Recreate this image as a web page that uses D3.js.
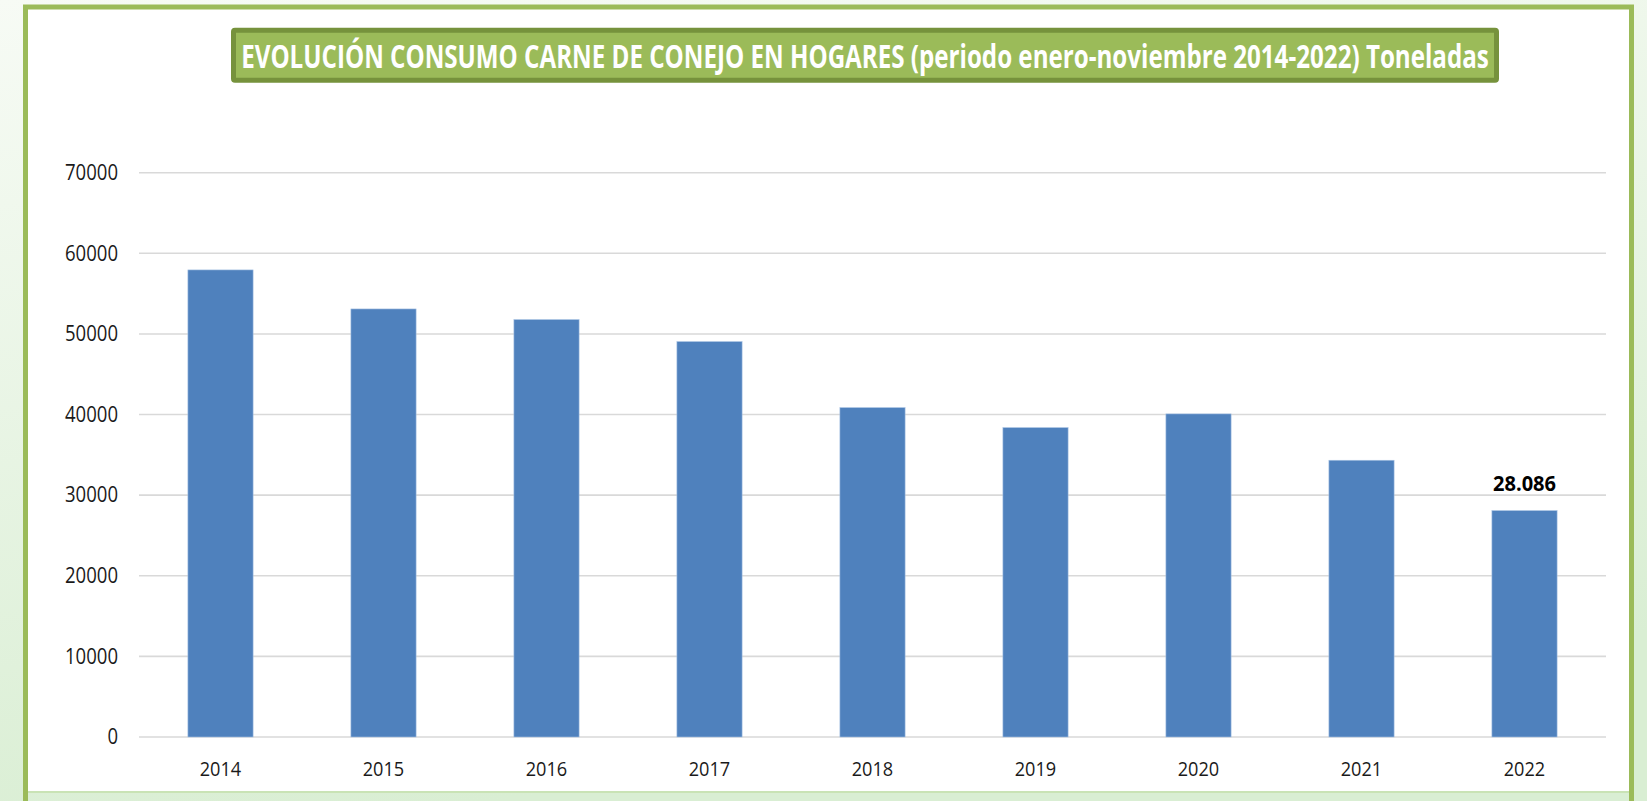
<!DOCTYPE html>
<meta charset="utf-8">
<head>
<style>
  body { margin: 0; overflow: hidden; }
  svg { display: block; }
</style>
</head>
<body>
<script src="https://d3js.org/d3.v7.min.js"></script>
<script>
// data
var years = ["2014", "2015", "2016", "2017", "2018", "2019", "2020", "2021", "2022"];
var tonnes = [57940, 53100, 51780, 49050, 40860, 38380, 40080, 34330, 28086];
var yTicks = [0, 10000, 20000, 30000, 40000, 50000, 60000, 70000];
var lastLabel = "28.086";
var title = "EVOLUCIÓN CONSUMO CARNE DE CONEJO EN HOGARES (periodo enero-noviembre 2014-2022) Toneladas";

var W = 1647, H = 801;
var plot = {left: 139, right: 1606, top: 172.7, bottom: 737};

var svg = d3.select("body").append("svg")
    .attr("width", W)
    .attr("height", H);

// background behind the framed panel
var defs = svg.append("defs");
var grad = defs.append("linearGradient")
    .attr("id", "bg").attr("x1", 0).attr("y1", 0).attr("x2", 0.3).attr("y2", 1);
grad.append("stop").attr("offset", "0%").attr("stop-color", "#f7fbf5");
grad.append("stop").attr("offset", "100%").attr("stop-color", "#d9eed3");
svg.append("rect").attr("width", W).attr("height", H).attr("fill", "url(#bg)");

// white panel + green frame
svg.append("rect")
    .attr("x", 26).attr("y", 7).attr("width", 1605).attr("height", 785)
    .attr("fill", "#ffffff");
svg.append("path")
    .attr("d", "M25.5,801 V7 H1631.5 V801")
    .attr("fill", "none").attr("stroke", "#9bbb59").attr("stroke-width", 5);
svg.append("line")
    .attr("x1", 28).attr("x2", 1629).attr("y1", 792).attr("y2", 792)
    .attr("stroke", "#c9e3b5").attr("stroke-width", 2);

// title box
svg.append("rect")
    .attr("x", 233.5).attr("y", 30.2).attr("width", 1263).attr("height", 50)
    .attr("rx", 1.5)
    .attr("fill", "#9bbb59").attr("stroke", "#76923c").attr("stroke-width", 5);
var titleText = svg.append("text")
    .attr("x", 0).attr("y", 0)
    .attr("text-anchor", "middle")
    .style("font-family", "'Open Sans', sans-serif")
    .style("font-weight", "bold")
    .style("font-size", "32px")
    .attr("fill", "#ffffff")
    .text(title);
// squeeze the title into the box (the original font is a narrow one)
var sx = 1248 / titleText.node().getComputedTextLength();
titleText.attr("transform", "translate(865,67.7) scale(" + sx + ",1)");

var x = d3.scaleBand()
    .domain(years)
    .range([plot.left, plot.right])
    .paddingInner(0.6)
    .paddingOuter(0.3);

var y = d3.scaleLinear()
    .domain([0, 70000])
    .range([plot.bottom, plot.top]);

// gridlines
svg.append("g")
  .selectAll("line")
  .data(yTicks)
  .join("line")
    .attr("x1", plot.left).attr("x2", plot.right)
    .attr("y1", d => y(d)).attr("y2", d => y(d))
    .attr("stroke", "#d9d9d9").attr("stroke-width", 1.6);

// y axis labels
var yAxis = svg.append("g")
    .attr("transform", "translate(" + (plot.left - 21) + ",0)")
    .call(d3.axisLeft(y).tickValues(yTicks).tickSize(0).tickPadding(0).tickFormat(d3.format("d")));
yAxis.select(".domain").remove();
yAxis.selectAll("text")
    .attr("textLength", d => String(d).length * 10.6)
    .attr("lengthAdjust", "spacingAndGlyphs")
    .style("font-family", "'Open Sans', sans-serif")
    .style("font-size", "21px")
    .attr("fill", "#1a1a1a");

// bars
svg.append("g")
  .selectAll("rect")
  .data(tonnes)
  .join("rect")
    .attr("x", (d, i) => x(years[i]))
    .attr("y", d => y(d))
    .attr("width", x.bandwidth())
    .attr("height", d => y(0) - y(d))
    .attr("fill", "#4f81bd")
    .attr("stroke", "#a9c3e3").attr("stroke-width", 0.6);

// x axis labels
var xAxis = svg.append("g")
    .attr("transform", "translate(0," + (plot.bottom + 25) + ")")
    .call(d3.axisBottom(x).tickSize(0).tickPadding(0));
xAxis.select(".domain").remove();
xAxis.selectAll("text")
    .attr("textLength", 41.5)
    .attr("lengthAdjust", "spacingAndGlyphs")
    .style("font-family", "'Open Sans', sans-serif")
    .style("font-size", "19.5px")
    .attr("fill", "#1a1a1a");

// value label on last bar
var last = years.length - 1;
svg.append("text")
    .attr("x", x(years[last]) + x.bandwidth() / 2)
    .attr("y", y(tonnes[last]) - 20)
    .attr("text-anchor", "middle")
    .attr("textLength", 63)
    .attr("lengthAdjust", "spacingAndGlyphs")
    .style("font-family", "'Open Sans', sans-serif")
    .style("font-weight", "bold")
    .style("font-size", "22px")
    .attr("fill", "#000000")
    .text(lastLabel);
</script>
</body>
